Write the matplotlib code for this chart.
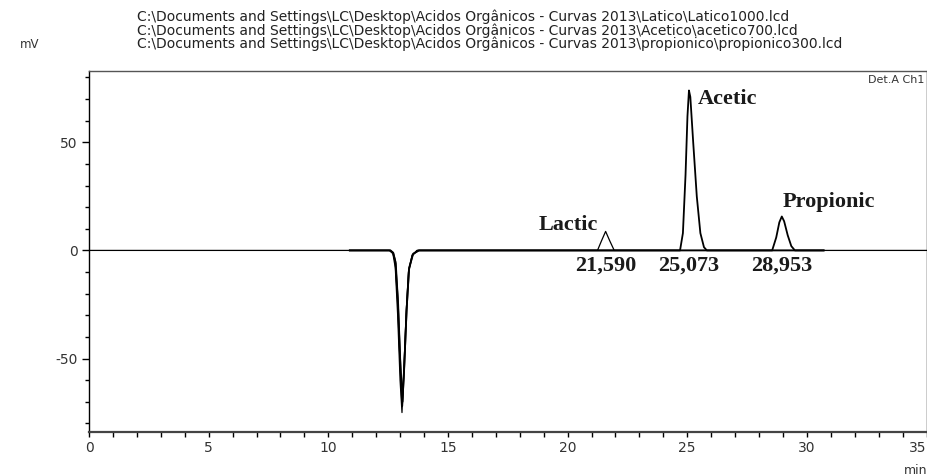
"""
Overlay of three HPLC runs (organic acid standards) on detector channel A.
"""

import numpy as np
from matplotlib import pyplot as plt
from matplotlib.ticker import MultipleLocator

RUN_FILES = [
    "C:\\Documents and Settings\\LC\\Desktop\\Acidos Orgânicos - Curvas 2013\\Latico\\Latico1000.lcd",
    "C:\\Documents and Settings\\LC\\Desktop\\Acidos Orgânicos - Curvas 2013\\Acetico\\acetico700.lcd",
    "C:\\Documents and Settings\\LC\\Desktop\\Acidos Orgânicos - Curvas 2013\\propionico\\propionico300.lcd",
]

PEAK_NAMES = ["Lactic", "Acetic", "Propionic"]
RET_TIMES = [21.590, 25.073, 28.953]      # min
PEAK_HEIGHTS = [8.8, 74.0, 15.7]         # mV
TIME_TICKS = [0, 5, 10, 15, 20, 25, 30, 35]

# Chromatogram vertices (min, mV)
lactic_t = [0.0, 12.55, 12.7, 12.8, 12.9, 13.0, 13.08, 13.15, 13.25, 13.35, 13.5, 13.7,
            21.25, 21.42, 21.59, 21.76, 21.95, 35.0]
lactic_mv = [0.0, 0.0, -1.5, -8.0, -30.0, -60.0, -75.0, -58.0, -30.0, -10.0, -2.5, 0.0,
             0.0, 4.5, 8.8, 4.5, 0.0, 0.0]

acetic_t = [10.9, 12.6, 12.72, 12.82, 12.92, 13.02, 13.09, 13.17, 13.27, 13.37, 13.52, 13.75,
            24.7, 24.82, 24.93, 25.01, 25.073, 25.13, 25.25, 25.4, 25.55, 25.7, 25.82, 30.7]
acetic_mv = [0.0, 0.0, -1.2, -6.0, -25.0, -55.0, -72.0, -55.0, -28.0, -9.0, -2.0, 0.0,
             0.0, 8.0, 35.0, 62.0, 74.0, 71.0, 50.0, 25.0, 8.0, 1.5, 0.0, 0.0]

propionic_t = [10.9, 12.58, 12.7, 12.8, 12.9, 13.0, 13.1, 13.18, 13.28, 13.38, 13.55, 13.8,
               28.55, 28.72, 28.85, 28.953, 29.05, 29.2, 29.35, 29.5, 30.7]
propionic_mv = [0.0, 0.0, -1.0, -5.0, -22.0, -50.0, -70.0, -52.0, -26.0, -8.0, -1.5, 0.0,
                0.0, 6.0, 13.0, 15.7, 13.5, 7.0, 2.0, 0.0, 0.0]

SERIF = ["Liberation Serif", "DejaVu Serif"]
SANS = ["DejaVu Sans"]

plt.rcParams['font.family'] = SANS
plt.rcParams['axes.unicode_minus'] = False

fig = plt.figure(figsize=(9.27, 4.76), dpi=100)
ax = fig.add_axes([89 / 927, 1 - 432 / 476, (926.5 - 89) / 927, (432 - 71) / 476])

traces = [(lactic_t, lactic_mv, 0.9), (acetic_t, acetic_mv, 1.3), (propionic_t, propionic_mv, 1.3)]
for t, mv, lw in traces:
    ax.plot(t, mv, color="black", linewidth=lw)

# Peak names and retention times
name_pos = [(-0.3, 3.0, "right"), (0.35, -4.0, "left"), (0.05, 6.5, "left")]
for name, rt, h, (dx, dy, ha) in zip(PEAK_NAMES, RET_TIMES, PEAK_HEIGHTS, name_pos):
    ax.text(rt + dx, h + dy, name, ha=ha, va="center", family=SERIF,
            fontsize=16, fontweight="bold", color="#1a1a1a")
    ax.text(rt, -2.5, f"{rt:.3f}".replace(".", ","), ha="center", va="top",
            family=SERIF, fontsize=16, fontweight="bold", color="#1a1a1a")

ax.set_xlim(0, 35)
ax.set_ylim(-84, 83)
ax.set_xticks(TIME_TICKS)
ax.set_xticklabels([str(v) for v in TIME_TICKS])
ax.get_xticklabels()[-1].set_horizontalalignment("right")  # keep "35" inside the figure
ax.xaxis.set_minor_locator(MultipleLocator(1))
ax.yaxis.set_major_locator(MultipleLocator(50))
ax.yaxis.set_minor_locator(MultipleLocator(10))
ax.tick_params(which="major", direction="out", length=5, width=1, labelsize=10,
               labelcolor="#333333", pad=3)
ax.tick_params(which="minor", direction="out", length=3, width=1)
ax.tick_params(axis="x", which="both", length=3.5)
for side in ["top", "right", "bottom", "left"]:
    ax.spines[side].set_linewidth(1.0)
ax.spines["top"].set_color("#555555")
ax.spines["bottom"].set_linewidth(1.6)
ax.spines["bottom"].set_color("#444444")

ax.text(0.997, 0.99, "Det.A Ch1", transform=ax.transAxes, ha="right", va="top",
        fontsize=8, color="#333333")
fig.text(20 / 927, 1 - 44 / 476, "mV", ha="left", va="center", fontsize=8.5, color="#333333")
fig.text(927 / 927, 1 - 471 / 476, "min", ha="right", va="center", fontsize=9, color="#333333")

for i, path in enumerate(RUN_FILES):
    fig.text(137 / 927, 1 - (17 + 13.5 * i) / 476, path, ha="left", va="center",
             fontsize=10, color="#222222")

fig.savefig("out.png", dpi=100)
